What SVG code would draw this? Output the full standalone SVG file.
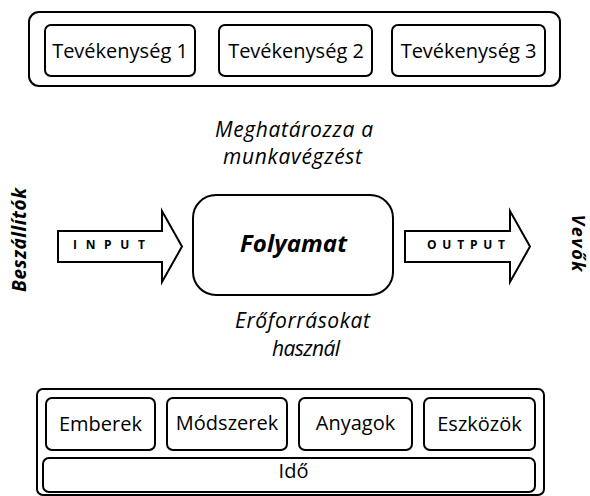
<svg xmlns="http://www.w3.org/2000/svg" width="590" height="496" viewBox="0 0 590 496">
<style>
.box{fill:#fff;stroke:#000;stroke-width:2}
.t{font-family:"Open Sans","Liberation Sans",sans-serif;font-size:20px;fill:#000;text-anchor:middle}
.it{font-family:"Open Sans","Liberation Sans",sans-serif;font-size:21px;font-style:italic;fill:#000;text-anchor:middle}
.bi{font-family:"Open Sans","Liberation Sans",sans-serif;font-weight:bold;font-style:italic;fill:#000;text-anchor:middle}
.lbl{font-family:"Open Sans","Liberation Sans",sans-serif;font-weight:bold;font-size:12px;fill:#000;text-anchor:middle}
</style>
<rect width="590" height="496" fill="#fff"/>
<g id="activities">
<rect class="box" x="29" y="12" width="531" height="74" rx="10"/>
<g id="act1"><rect class="box" x="45" y="25" width="150" height="51" rx="6"/><text class="t" x="120" y="58">Tevékenység 1</text></g>
<g id="act2"><rect class="box" x="219" y="25" width="153" height="51" rx="6"/><text class="t" x="296" y="58">Tevékenység 2</text></g>
<g id="act3"><rect class="box" x="392" y="25" width="153" height="51" rx="6"/><text class="t" x="468.5" y="58">Tevékenység 3</text></g>
</g>
<g id="label-top">
<text class="it" x="294" y="137" textLength="158">Meghatározza a</text>
<text class="it" x="292.5" y="164" textLength="139">munkavégzést</text>
</g>
<g id="suppliers"><text class="bi" font-size="19" transform="translate(26,240) rotate(-90)" x="0" y="0" textLength="104">Beszállítók</text></g>
<g id="customers"><text class="bi" font-size="18" transform="translate(572,243) rotate(90)" x="0" y="0" textLength="57">Vevők</text></g>
<g id="process">
<rect class="box" x="193" y="195" width="200" height="100" rx="23"/>
<text class="bi" font-size="24" x="293.5" y="252" textLength="107">Folyamat</text>
</g>
<g id="connectors">
<g id="input">
<path class="box" d="M58,231 H162 V211 L182,246.5 L162,282 V262 H58 Z"/>
<text class="lbl" x="109" y="248.5" textLength="72">INPUT</text>
</g>
<g id="output">
<path class="box" d="M405,231 H510 V211 L530,246.5 L510,282 V262 H405 Z"/>
<text class="lbl" x="466" y="249" textLength="78">OUTPUT</text>
</g>
</g>
<g id="label-bottom">
<text class="it" x="302.5" y="328" textLength="135">Erőforrásokat</text>
<text class="it" x="306" y="356" textLength="68">használ</text>
</g>
<g id="resources">
<rect class="box" x="37" y="389" width="507" height="106" rx="6"/>
<g id="emberek"><rect class="box" x="46" y="398" width="109" height="52" rx="6"/><text class="t" x="100.5" y="431">Emberek</text></g>
<g id="modszerek"><rect class="box" x="167" y="398" width="120" height="52" rx="6"/><text class="t" x="227" y="430">Módszerek</text></g>
<g id="anyagok"><rect class="box" x="299" y="398" width="113" height="52" rx="6"/><text class="t" x="355.5" y="430">Anyagok</text></g>
<g id="eszkozok"><rect class="box" x="424" y="398" width="111" height="52" rx="6"/><text class="t" x="479.5" y="431">Eszközök</text></g>
<g id="ido"><rect class="box" x="43" y="458" width="492" height="34" rx="6"/><text class="t" x="293.5" y="478">Idő</text></g>
</g>
</svg>
